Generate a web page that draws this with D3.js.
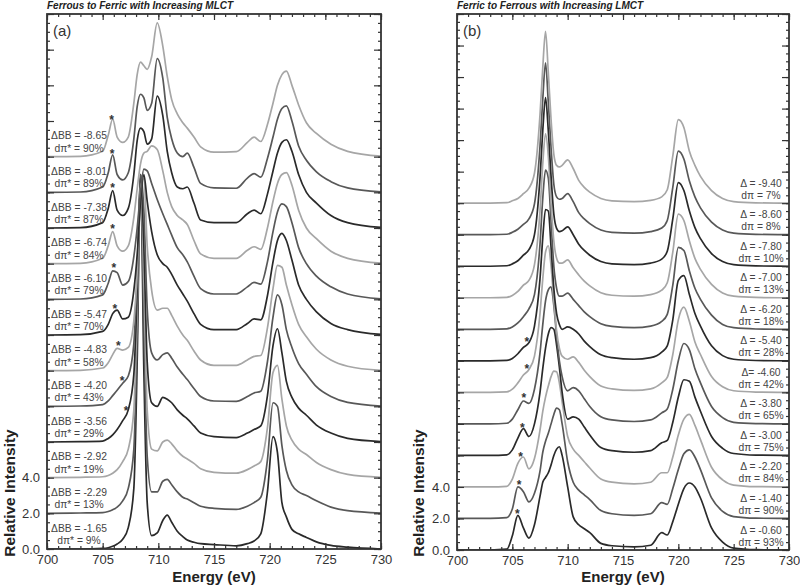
<!DOCTYPE html>
<html><head><meta charset="utf-8">
<script src="https://cdn.jsdelivr.net/npm/d3@7"></script>
<style>
body{margin:0;background:#fff}
text{font-family:Arial,"Liberation Sans",sans-serif}
</style></head>
<body><svg id="chart" width="800" height="585"></svg>
<script>
// ---------------- DATA ----------------
const energyTicks = [700, 705, 710, 715, 720, 725, 730];
const yTickLabels = [0, 2, 4];

// Panel (a): Ferrous to Ferric with increasing MLCT (values above each trace's offset)
const energiesA = [700,703,705,705.5,705.9,706.3,706.8,707.3,707.8,708.1,708.4,708.7,709,709.4,709.9,710.4,710.8,711.2,711.7,712.2,712.6,713.2,713.8,715,717,718,718.6,719.2,719.8,720.3,720.7,721.1,721.5,722,722.6,723.3,724.2,725.5,727,730];
const deltaBB = ["-1.65","-2.29","-2.92","-3.56","-4.20","-4.83","-5.47","-6.10","-6.74","-7.38","-8.01","-8.65"];
const dpiStarA = ["9%","13%","19%","29%","43%","58%","70%","79%","84%","87%","89%","90%"];
const offsetsA = [0,2,4,6,8,10,12,14,16,18,20,22];
const starEnergyA = [null,null,null,707.1,706.75,706.4,706.1,706.0,705.9,705.9,705.85,705.8];
const a165 = [0,0,0.03,0.07,0.15,0.28,0.55,1.2,3.4,10.5,21,10,2.6,0.75,0.9,1.6,1.9,1.5,1.0,0.7,0.5,0.38,0.3,0.25,0.18,0.3,0.45,0.85,3.2,6.3,5.4,2.6,1.8,1.1,0.85,0.65,0.4,0.2,0.1,0];
const a229 = [0,0.02,0.04,0.1,0.2,0.35,0.7,1.4,3.6,10,19,10.5,3.2,1.2,1.2,1.8,1.9,1.6,1.2,0.9,0.8,0.6,0.4,0.28,0.22,0.4,0.6,0.9,3.0,6.2,6.0,3.8,2.4,1.6,1.2,1.0,0.7,0.35,0.15,0.02];
const a292 = [0,0.02,0.05,0.12,0.25,0.45,0.9,1.6,3.8,9.5,17,11,3.8,1.6,1.5,2.0,2.1,1.9,1.5,1.2,1.05,0.8,0.5,0.3,0.25,0.45,0.65,0.9,2.8,5.9,6.3,4.4,2.9,2.1,1.6,1.3,0.85,0.45,0.18,0.02];
const a356 = [0,0.02,0.05,0.2,0.4,0.7,1.2,1.8,3.8,8.5,15,11,4.5,2.2,2.0,2.5,2.4,2.2,1.8,1.5,1.3,0.9,0.5,0.3,0.25,0.5,0.7,0.9,2.6,5.4,6.35,5.0,3.4,2.5,1.9,1.5,0.95,0.5,0.2,0.02];
const a420 = [0,0.02,0.1,0.3,0.6,0.9,1.3,1.7,3.5,7.5,13,11,5.5,3.0,2.6,2.9,3.0,2.7,2.2,1.8,1.5,1.0,0.55,0.3,0.28,0.55,0.75,0.85,2.5,5.0,6.25,5.7,4.3,3.3,2.4,1.8,1.1,0.55,0.22,0.02];
const a483 = [0,0.02,0.15,0.45,0.9,1.25,1.15,1.3,2.8,5.5,10.2,10.8,7.0,4.5,3.4,3.5,3.5,3.1,2.5,2.0,1.7,1.1,0.6,0.3,0.3,0.6,0.8,0.85,2.4,4.6,5.9,5.8,4.8,3.7,2.6,1.9,1.2,0.6,0.25,0.02];
const a547 = [0,0.02,0.2,0.6,1.2,1.4,0.9,1.0,2.5,4.5,7.5,9.0,7.5,5.8,4.5,4.0,3.8,3.4,2.8,2.3,1.9,1.2,0.6,0.3,0.3,0.65,0.9,0.85,2.2,4.1,5.3,5.7,5.3,4.2,2.8,2.0,1.3,0.65,0.3,0.03];
const a610 = [0,0.02,0.25,0.9,1.6,1.5,0.8,1.0,2.4,4.0,6.0,7.3,7.2,6.5,5.6,4.8,4.2,3.6,2.9,2.5,2.1,1.3,0.6,0.3,0.3,0.7,0.95,0.85,2.1,3.8,4.9,5.35,5.2,4.3,2.9,2.0,1.3,0.7,0.3,0.03];
const a674 = [0,0.02,0.3,1.0,1.8,1.0,0.7,1.0,2.6,4.2,5.6,6.2,6.3,6.6,6.4,5.2,4.0,3.2,2.7,2.45,2.2,1.3,0.55,0.3,0.3,0.75,0.95,0.8,2.0,3.5,4.5,5.0,5.1,4.4,3.0,2.0,1.4,0.7,0.3,0.03];
const a738 = [0,0.02,0.3,1.1,2.1,1.0,0.7,1.1,3.0,4.9,5.6,5.4,4.7,5.0,7.4,6.3,4.3,3.1,2.3,2.2,2.3,1.4,0.45,0.3,0.3,0.8,1.0,0.8,1.9,3.2,4.2,4.8,4.95,4.3,3.0,2.0,1.4,0.7,0.3,0.03];
const a801 = [0,0.02,0.3,1.1,2.1,1.0,0.7,1.1,3.0,4.8,5.5,5.3,4.6,5.0,7.5,6.4,4.2,3.0,2.2,2.0,2.2,1.4,0.5,0.25,0.23,0.8,1.05,0.85,1.9,3.1,4.1,4.7,4.85,4.0,2.6,1.8,1.15,0.6,0.25,0.03];
const a865 = [0,0.02,0.3,1.2,2.1,1.1,0.8,1.1,3.0,4.6,5.3,5.1,4.9,5.6,7.5,6.2,4.5,3.2,2.4,1.9,1.6,1.1,0.55,0.25,0.28,0.8,1.1,0.85,1.8,3.0,4.0,4.6,4.8,4.0,2.9,1.9,1.3,0.7,0.3,0.03];

// Panel (b): Ferric to Ferrous with increasing LMCT
const energiesB = [700,703,704.5,705,705.5,706,706.5,707,707.5,707.75,708,708.25,708.5,708.75,709,709.25,709.5,710,710.5,711,711.5,712,713,714,716,717.5,718.5,719,719.5,720,720.5,721,721.5,722,723,724,725,727,730];
const deltaB = ["-0.60","-1.40","-2.20","-3.00","-3.80","-4.60","-5.40","-6.20","-7.00","-7.80","-8.60","-9.40"];
const deltaSep = [" = "," = "," = "," = "," = ","= "," = "," = "," = "," = "," = "," = "];
const dpiB = ["93%","90%","84%","75%","65%","42%","28%","18%","13%","10%","8%","7%"];
const offsetsB = [0,2,4,6,8,10,12,14,16,18,20,22];
const starEnergyB = [705.45,705.6,705.75,705.9,706.05,706.3,706.3,null,null,null,null,null];
const b060 = [0,0,0.05,0.9,2.2,1.4,0.75,1.6,3.4,4.3,4.6,4.9,5.4,6.0,6.4,6.55,6.0,4.0,2.1,1.6,1.35,1.1,0.42,0.27,0.2,0.3,1.1,0.95,1.8,2.9,3.9,4.25,4.0,3.3,1.4,0.5,0.12,0.02,0];
const b140 = [0,0,0.05,0.6,2.0,1.7,1.05,1.6,3.0,4.2,4.9,5.4,6.0,6.6,7.0,6.9,6.0,3.6,2.3,1.8,1.5,1.2,0.5,0.3,0.2,0.3,1.0,0.9,1.9,3.1,4.1,4.35,3.9,3.1,1.3,0.45,0.12,0.02,0];
const b220 = [0,0,0.04,0.5,1.5,1.9,1.15,1.8,3.6,4.8,5.7,6.4,7.0,7.35,7.3,6.6,5.4,3.2,2.4,2.0,1.6,1.2,0.5,0.3,0.2,0.3,0.9,0.9,1.9,3.3,4.3,4.6,3.9,3.0,1.25,0.45,0.12,0.02,0];
const b300 = [0,0,0.04,0.35,1.1,1.7,1.2,2.0,4.0,5.5,6.8,7.7,8.1,8.0,7.0,5.6,4.0,2.3,2.45,2.3,1.8,1.3,0.5,0.3,0.2,0.3,0.8,0.95,2.1,3.7,4.8,4.7,3.7,2.8,1.2,0.45,0.12,0.02,0];
const b380 = [0,0,0.04,0.3,0.9,1.45,1.3,2.2,4.5,6.3,7.8,8.5,8.7,7.5,5.6,4.0,3.0,2.1,2.3,2.1,1.6,1.1,0.45,0.25,0.15,0.25,0.7,0.95,2.2,4.0,5.1,4.7,3.5,2.6,1.1,0.4,0.1,0.02,0];
const b460 = [0,0,0.03,0.2,0.6,1.1,1.45,2.3,5.0,7.2,8.9,9.3,8.0,5.8,3.9,2.8,2.3,2.1,2.25,1.9,1.4,1.0,0.4,0.22,0.12,0.22,0.6,0.95,2.4,4.6,5.4,4.5,3.2,2.4,1.0,0.35,0.1,0.02,0];
const b540 = [0,0,0.03,0.15,0.45,0.85,1.15,2.2,5.2,7.8,9.6,9.5,7.2,4.6,3.0,2.3,2.0,2.15,2.0,1.7,1.25,0.9,0.38,0.2,0.1,0.2,0.55,0.95,2.6,5.1,5.4,4.2,3.0,2.2,0.95,0.33,0.1,0.02,0];
const b620 = [0,0,0.03,0.15,0.4,0.8,1.3,2.2,5.4,8.3,10.1,9.6,6.8,4.0,2.6,2.1,2.1,2.3,1.9,1.5,1.1,0.8,0.35,0.18,0.1,0.2,0.5,0.95,2.8,5.2,5.0,3.7,2.6,1.9,0.9,0.3,0.1,0.02,0];
const b700 = [0,0,0.03,0.15,0.4,0.8,1.1,2.1,5.5,8.5,10.4,9.0,6.0,3.6,2.5,2.2,2.2,2.4,1.9,1.45,1.05,0.75,0.32,0.16,0.1,0.2,0.48,0.95,2.9,5.3,4.9,3.6,2.5,1.8,0.85,0.3,0.1,0.02,0];
const b780 = [0,0,0.03,0.15,0.35,0.7,1.05,2.0,5.6,8.6,10.7,8.6,5.7,3.3,2.4,2.2,2.25,2.5,2.0,1.4,1.0,0.7,0.3,0.15,0.1,0.2,0.45,0.95,3.0,5.3,4.8,3.5,2.45,1.75,0.8,0.3,0.1,0.02,0];
const b860 = [0,0,0.03,0.15,0.35,0.65,1.0,1.95,5.6,8.6,10.9,8.4,5.5,3.2,2.4,2.25,2.3,2.6,2.1,1.4,1.0,0.7,0.3,0.15,0.1,0.2,0.42,0.9,3.0,5.3,4.8,3.4,2.4,1.7,0.8,0.3,0.1,0.02,0];
const b940 = [0,0,0.03,0.15,0.3,0.6,0.95,1.9,5.6,8.6,10.9,8.3,5.3,3.1,2.4,2.3,2.4,2.75,2.2,1.45,1.0,0.7,0.3,0.15,0.1,0.18,0.4,0.85,3.0,5.3,4.8,3.3,2.4,1.7,0.8,0.3,0.1,0.02,0];

const seriesA = [a165,a229,a292,a356,a420,a483,a547,a610,a674,a738,a801,a865];
const seriesB = [b060,b140,b220,b300,b380,b460,b540,b620,b700,b780,b860,b940];
const shades = ["#2a2a2a","#585858","#a6a6a6"];

// ---------------- DRAW ----------------
const svg = d3.select("#chart");

function interp(es, vs, e){
  for(let i=0;i<es.length-1;i++){
    if(e>=es[i] && e<=es[i+1]){const t=(e-es[i])/(es[i+1]-es[i]);return vs[i]+t*(vs[i+1]-vs[i]);}
  }
  return 0;
}

function panel(cfg){
  const g = svg.append("g");
  const x = d3.scaleLinear().domain([700,730]).range([cfg.x0, cfg.x1]);
  const y = d3.scaleLinear().domain([0, cfg.ymax]).range([cfg.y1, cfg.y0]);
  const axisColor = "#333";

  const line = d3.line().x(d=>x(d[0])).y(d=>y(d[1])).curve(d3.curveMonotoneX);
  const clip = "clip"+cfg.id;
  svg.append("clipPath").attr("id",clip).append("rect")
     .attr("x",cfg.x0).attr("y",cfg.y0).attr("width",cfg.x1-cfg.x0).attr("height",cfg.y1-cfg.y0);
  const cg = g.append("g").attr("clip-path","url(#"+clip+")");
  cfg.series.forEach((vals,i)=>{
    const pts = cfg.energies.map((e,k)=>[e, cfg.offsets[i]+vals[k]]);
    cg.append("path").attr("d",line(pts)).attr("fill","none")
      .attr("stroke",shades[i%3]).attr("stroke-width",1.7).attr("stroke-linejoin","round");
  });
  cfg.stars.forEach((se,i)=>{
    if(se===null) return;
    const v = cfg.offsets[i]+interp(cfg.energies,cfg.series[i],se);
    g.append("text").attr("x",x(se)).attr("y",y(v)+1).attr("text-anchor","middle")
     .attr("font-size",12).attr("font-weight","bold").attr("fill","#333").text("*");
  });

  const minorX = d3.range(700,731,1);
  const majorY = d3.range(0,cfg.ymax+0.01,2);
  const minorY = d3.range(0,cfg.ymax+0.01,0.5);
  g.append("g").attr("transform",`translate(0,${cfg.y1})`)
    .call(d3.axisBottom(x).tickValues(minorX).tickSize(-3).tickFormat(""));
  g.append("g").attr("transform",`translate(0,${cfg.y1})`)
    .call(d3.axisBottom(x).tickValues(energyTicks).tickSize(-6).tickPadding(6).tickFormat(d3.format("d")))
    .call(s=>s.selectAll("text").attr("font-size",13).attr("fill","#333").attr("font-family","Arial, Liberation Sans, sans-serif"));
  g.append("g").attr("transform",`translate(0,${cfg.y0})`)
    .call(d3.axisTop(x).tickValues(minorX).tickSize(-3).tickFormat(""));
  g.append("g").attr("transform",`translate(0,${cfg.y0})`)
    .call(d3.axisTop(x).tickValues(energyTicks).tickSize(-6).tickFormat(""));
  g.append("g").attr("transform",`translate(${cfg.x0},0)`)
    .call(d3.axisLeft(y).tickValues(minorY).tickSize(-3).tickFormat(""));
  g.append("g").attr("transform",`translate(${cfg.x0},0)`)
    .call(d3.axisLeft(y).tickValues(majorY).tickSize(-7).tickPadding(7)
      .tickFormat(d=> yTickLabels.includes(d) ? d3.format(".1f")(d) : ""))
    .call(s=>s.selectAll("text").attr("font-size",13).attr("fill","#333").attr("font-family","Arial, Liberation Sans, sans-serif"));
  g.append("g").attr("transform",`translate(${cfg.x1},0)`)
    .call(d3.axisRight(y).tickValues(minorY).tickSize(-3).tickFormat(""));
  g.append("g").attr("transform",`translate(${cfg.x1},0)`)
    .call(d3.axisRight(y).tickValues(majorY).tickSize(-7).tickFormat(""));
  g.selectAll(".domain").remove();
  g.selectAll(".tick line").attr("stroke",axisColor).attr("stroke-width",1.2);
  g.append("rect").attr("x",cfg.x0).attr("y",cfg.y0).attr("width",cfg.x1-cfg.x0).attr("height",cfg.y1-cfg.y0)
    .attr("fill","none").attr("stroke",axisColor).attr("stroke-width",1.8);

  cfg.series.forEach((vals,i)=>{
    const yb = y(cfg.offsets[i]);
    g.append("text").attr("x",cfg.labX).attr("y",yb+cfg.l1).attr("text-anchor","middle")
      .attr("font-size",10.3).attr("fill","#444").text(cfg.line1(i));
    g.append("text").attr("x",cfg.labX).attr("y",yb+cfg.l2).attr("text-anchor","middle")
      .attr("font-size",10.3).attr("fill","#444").text(cfg.line2(i));
  });

  g.append("text").attr("x",cfg.x0).attr("y",9).attr("font-size",10).attr("font-weight","bold")
   .attr("font-style","italic").attr("fill","#222").text(cfg.title);
  g.append("text").attr("x",cfg.x0+6).attr("y",36).attr("font-size",15).attr("fill","#333").text(cfg.tag);
  g.append("text").attr("x",(cfg.x0+cfg.x1)/2).attr("y",582).attr("text-anchor","middle")
   .attr("font-size",15).attr("font-weight","bold").attr("fill","#222").text("Energy (eV)");
  g.append("text").attr("transform",`translate(${cfg.ylabX},493) rotate(-90)`).attr("text-anchor","middle")
   .attr("font-size",15.5).attr("font-weight","bold").attr("fill","#222").text("Relative Intensity");
}

panel({id:"a", x0:47, x1:381, y0:14, y1:549, ymax:30, energies:energiesA, series:seriesA,
  offsets:offsetsA, stars:starEnergyA, labX:79, l1:-17.5, l2:-5, ylabX:15,
  line1:i=>"\u0394BB = "+deltaBB[i], line2:i=>"d\u03c0* = "+dpiStarA[i],
  title:"Ferrous to Ferric with Increasing MLCT", tag:"(a)"});
panel({id:"b", x0:457, x1:789, y0:14, y1:550, ymax:34, energies:energiesB, series:seriesB,
  offsets:offsetsB, stars:starEnergyB, labX:761, l1:-16.5, l2:-4.5, ylabX:424,
  line1:i=>"\u0394"+deltaSep[i]+deltaB[i], line2:i=>"d\u03c0 = "+dpiB[i],
  title:"Ferric to Ferrous with Increasing LMCT", tag:"(b)"});
</script></body></html>
